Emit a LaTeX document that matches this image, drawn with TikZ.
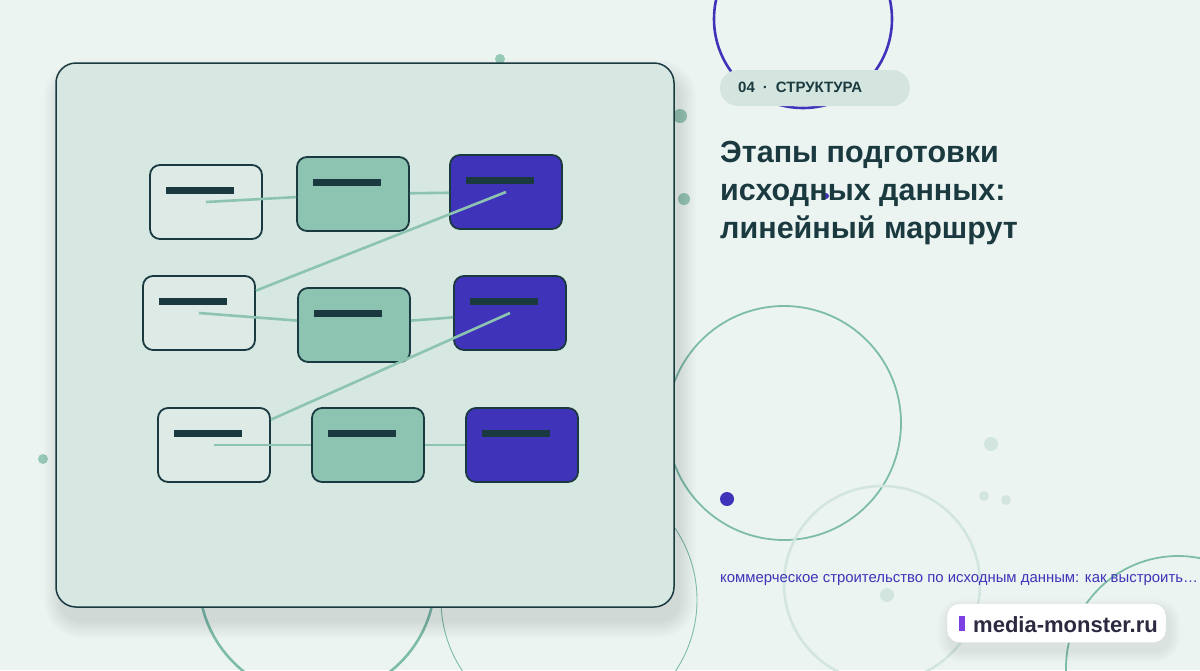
\documentclass[tikz,border=0pt]{standalone}
\usepackage{fontspec}
\setmainfont{Liberation Sans}
\definecolor{bgc}{HTML}{ECF4F1}
\definecolor{panelc}{HTML}{D7E7E2}
\definecolor{ink}{HTML}{1A3A40}
\definecolor{mint}{HTML}{8DC4B1}
\definecolor{indigo}{HTML}{3F33B9}
\definecolor{paleA}{HTML}{DDEAE6}
\definecolor{ringc}{HTML}{7DBDA8}
\definecolor{fog}{HTML}{D3E5DF}
\definecolor{violet}{HTML}{7B3FE4}
\definecolor{pillc}{HTML}{D4E5DF}
\definecolor{brandink}{HTML}{2B2A40}

\begin{document}
\begin{tikzpicture}[x=1pt,y=-1pt,
    stage/.style={draw=ink, line width=1.8pt, rounded corners=10pt, minimum width=112pt, minimum height=74pt, inner sep=0pt,
      path picture={\fill[ink, draw=none, sharp corners] ([xshift=16pt,yshift=-21.5pt]path picture bounding box.north west) rectangle ++(68pt,-7pt);}},
    src/.style={stage, fill=paleA},
    mid/.style={stage, fill=mint},
    dst/.style={stage, fill=indigo},
    link/.style={draw=mint, line width=2.6pt},
    ring/.style={draw=ringc, line width=1.8pt},
    dot/.style={fill=mint, opacity=0.9},
    faint/.style={fill=fog},
    glow/.style={fill=black, opacity=0.011}]
    \fill[bgc] (0,0) rectangle (1200,670);
    \useasboundingbox (0,0) rectangle (1200,670);

    \draw[indigo, line width=2.6pt] (803,19) circle[radius=89];
    \draw[ring] (784,423) circle[radius=117];
    \draw[fog, line width=2.6pt] (882,584) circle[radius=98];
    \draw[ring] (1178,668) circle[radius=112];
    \draw[ring, line width=2.6pt] (317,579) circle[radius=118];
    \draw[ringc, line width=0.9pt] (569,600) circle[radius=128];
    \fill[dot] (500,59) circle[radius=5];
    \fill[dot] (680,116) circle[radius=7];
    \fill[dot] (684,199) circle[radius=6];
    \fill[dot] (43,459) circle[radius=5];
    \fill[faint] (991,444) circle[radius=7];
    \fill[faint] (984,496) circle[radius=5];
    \fill[faint] (1006,500) circle[radius=5];
    \fill[faint] (887,595) circle[radius=7];
    \fill[indigo] (727,499) circle[radius=7];

    \foreach \s in {2,4,...,18}
      \fill[glow, rounded corners=20pt+\s pt] (62-\s,78-\s) rectangle (678+\s,620+\s);
    \node[draw=ink, line width=1.5pt, fill=panelc, rounded corners=20pt, minimum width=618pt, minimum height=544pt] (board) at (365,335) {};

    \node[src] (A1) at (206,202) {};
    \node[mid] (B1) at (353,194) {};
    \node[dst] (C1) at (506,192) {};
    \node[src] (A2) at (199,313) {};
    \node[mid] (B2) at (354,325) {};
    \node[dst] (C2) at (510,313) {};
    \node[src] (A3) at (214,445) {};
    \node[mid] (B3) at (368,445) {};
    \node[dst] (C3) at (522,445) {};

    \draw[link] (A1.center) -- (B1);
    \draw[link] (B1) -- (C1);
    \draw[link] (C1.center) -- (A2);
    \draw[link] (A2.center) -- (B2);
    \draw[link] (B2) -- (C2);
    \draw[link] (C2.center) -- (A3);
    \draw[link] (A3.center) -- (B3);
    \draw[link] (B3) -- (C3);

    \node[fill=pillc, rounded corners=18pt, minimum width=190pt, minimum height=36pt] (tagpill) at (815,88) {};
    \node[anchor=base west, inner sep=0, text=ink, font=\bfseries\fontsize{15}{18}\selectfont] (tag) at (738,92) {04\hspace{8pt}·\hspace{8pt}СТРУКТУРА};

    \fill[indigo] (826,196) circle[radius=3];
    \node[anchor=base west, inner sep=0, text=ink, font=\bfseries\fontsize{30.5}{36}\selectfont] (head1) at (720,162) {Этапы подготовки};
    \node[anchor=base west, inner sep=0, text=ink, font=\bfseries\fontsize{30.5}{36}\selectfont] (head2) at (720,200) {исходных данных:};
    \node[anchor=base west, inner sep=0, text=ink, font=\bfseries\fontsize{30.5}{36}\selectfont] (head3) at (720,238) {линейный маршрут};

    \node[anchor=base west, inner sep=0, text=indigo, font=\fontsize{14.9}{18}\selectfont] (teaser) at (720,582) {коммерческое строительство по исходным данным: как выстроить…};

    \foreach \s in {2,4,...,12}
      \fill[glow, rounded corners=12pt+\s pt] (950-\s,611-\s) rectangle (1168+\s,650+\s);
    \node[draw=black!15, fill=white, rounded corners=12pt, minimum width=219pt, minimum height=39pt] (brand) at (1056.5,623) {};
    \fill[violet] (959,616) rectangle (965,631);
    \node[anchor=base west, inner sep=0, text=brandink, font=\bfseries\fontsize{22}{26}\selectfont] (site) at (973,632) {media-monster.ru};
\end{tikzpicture}
\end{document}
